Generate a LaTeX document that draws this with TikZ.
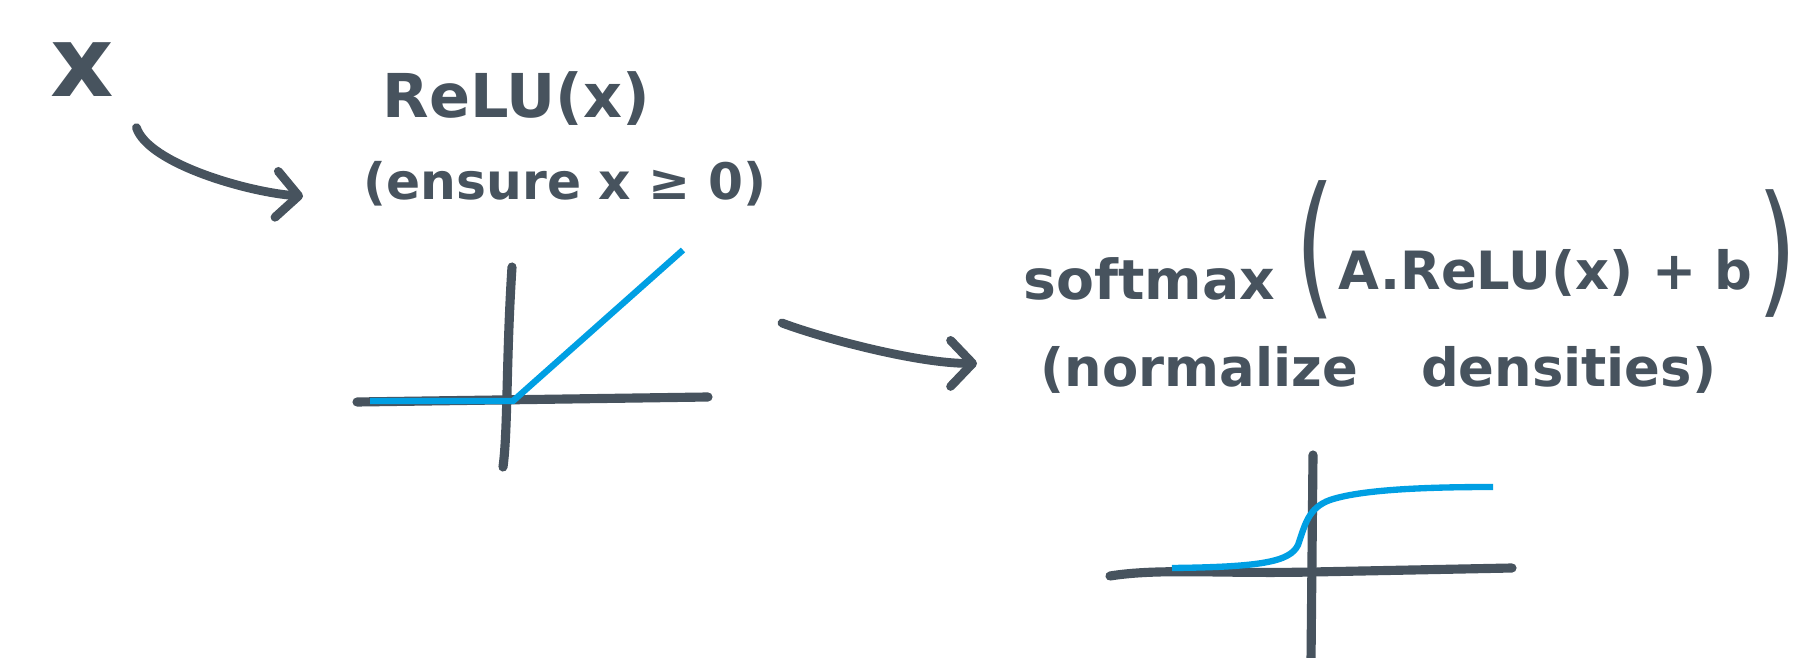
\documentclass[tikz,border=0pt]{standalone}
\usepackage{fontspec}
\setmainfont{DejaVu Sans}
\usetikzlibrary{arrows.meta,calc}

\definecolor{ink}{HTML}{47535E}
\definecolor{curveblue}{HTML}{009FE3}
\tikzset{
  lbl/.style={text=ink, inner sep=0pt, font=\bfseries\fontsize{16}{18}\selectfont},
  bigpar/.style={text=ink, inner sep=0pt, font=\mdseries\fontsize{17}{18}\selectfont},
  axis/.style={draw=ink, line width=2.6pt, line cap=round, line join=round},
  graph/.style={draw=curveblue, line width=1.8pt},
  arr/.style={draw=ink, line width=2.5pt, line cap=round,
    -{Straight Barb[round,length=2.2mm,width=4.6mm]}},
}

\begin{document}
\begin{tikzpicture}[x=0.01cm,y=-0.01cm]
\useasboundingbox (0,0) rectangle (1799,658);

% labels
\node[lbl,anchor=base,font=\bfseries\fontsize{28}{30}\selectfont] (xin) at (82,97) {x};
\node[lbl,anchor=base west,font=\bfseries\fontsize{17.2}{20}\selectfont] (relu) at (382,118) {ReLU(x)};
\node[lbl,anchor=base west,font=\bfseries\fontsize{14.3}{17}\selectfont] (ensure) at (363,200) {(ensure x ≥ 0)};
\node[lbl,anchor=base west,font=\bfseries\fontsize{15.7}{18}\selectfont] (smx) at (1023,300) {softmax};
\node[bigpar] (lpar) at (1315,250) {\scalebox{1.7}[2.6]{(}};
\node[lbl,anchor=base west,font=\bfseries\fontsize{15}{18}\selectfont] (inner) at (1338,290) {A.ReLU(x) + b};
\node[bigpar] (rpar) at (1777,254) {\scalebox{1.7}[2.4]{)}};
\node[lbl,anchor=base west,font=\bfseries\fontsize{15}{18}\selectfont] (norm) at (1040,387) {(normalize\hspace{1.2em}densities)};

% relu plot
\coordinate (r0) at (513,401);
\coordinate (rend) at (683,250);
\draw[axis] (357,402) -- (708,397);
\draw[axis] (512,267) .. controls (506,360) and (508,430) .. (503,467);
\draw[graph] (370,401) -- (r0) -- (rend);

% softmax plot
\coordinate (s0) at (1312,572);
\draw[axis] (1110,576) .. controls (1160,568) and (1220,574) .. (s0) -- (1512,568);
\draw[axis] (1313,455) -- (1311,662);
\draw[graph] (1172,568) .. controls (1260,567) and (1290,562) .. (1298,545)
  .. controls (1305,525) and (1308,508) .. (1330,500)
  .. controls (1360,490) and (1420,487) .. (1493,487);

% arrows
\draw[arr] ($(xin.south east)+(22,30)$) .. controls +(12,36) and +(-55,-4) .. ($(ensure.west)+(-60,12)$);
\draw[arr] ($(rend)+(99,73)$) .. controls +(40,15) and +(-60,0) .. ($(norm.west)+(-63,-7)$);
\end{tikzpicture}
\end{document}
